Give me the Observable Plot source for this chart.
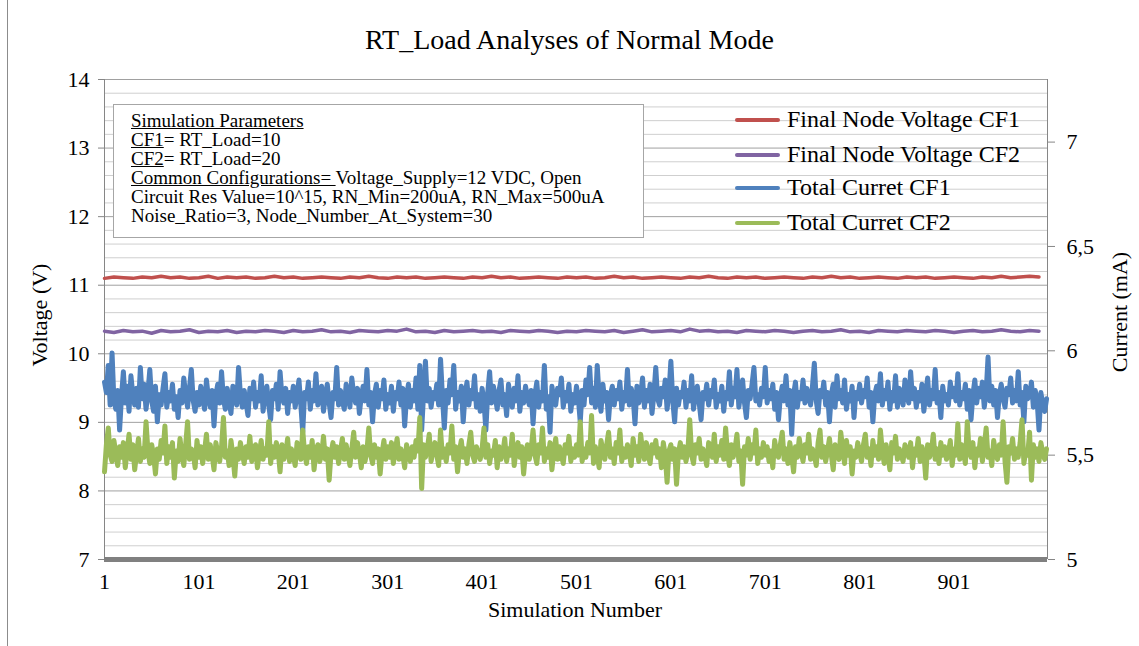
<!DOCTYPE html>
<html><head><meta charset="utf-8">
<script src="https://cdn.jsdelivr.net/npm/d3@7"></script>
<script src="https://cdn.jsdelivr.net/npm/@observablehq/plot@0.6"></script>
<style>
body{margin:0;background:#fff;font-family:"Liberation Serif","Times New Roman",serif;color:#000;}
#wrap{position:relative;width:1139px;height:646px;overflow:hidden;}
#border{position:absolute;left:7px;top:0;width:1px;height:646px;background:#8c8c8c;}
#title{position:absolute;left:0;top:26px;width:1139px;text-align:center;font-size:28px;line-height:28px;}
#chart{position:absolute;left:0;top:60px;}
.lab{position:absolute;font-size:22px;white-space:nowrap;line-height:24px;}
#params{position:absolute;left:113px;top:104px;width:512px;height:126px;border:1px solid #a6a6a6;background:#fff;padding:6px 0 0 17px;font-size:19px;line-height:19px;}
#params u{text-decoration:underline;}
.leg{position:absolute;left:735px;height:26px;font-size:24px;line-height:26px;white-space:nowrap;}
.leg span.sw{display:inline-block;width:45px;height:4px;vertical-align:middle;margin-right:7px;border-radius:2px;position:relative;top:-1px;}
</style></head>
<body>
<div id="wrap">
<div id="border"></div>
<div id="title">RT_Load Analyses of Normal Mode</div>
<div id="chart"></div>
<div id="params">
<div><u>Simulation Parameters</u></div>
<div><u>CF1</u>= RT_Load=10</div>
<div><u>CF2</u>= RT_Load=20</div>
<div><u>Common Configurations= </u>Voltage_Supply=12 VDC, Open</div>
<div>Circuit Res Value=10^15, RN_Min=200uA, RN_Max=500uA</div>
<div>Noise_Ratio=3, Node_Number_At_System=30</div>
</div>
<div id="legend"></div>
<div class="lab" style="left:575px;top:598px;transform:translateX(-50%);">Simulation Number</div>
<div class="lab" style="left:40px;top:315px;transform:translate(-50%,-50%) rotate(-90deg);">Voltage (V)</div>
<div class="lab" style="left:1120px;top:312px;transform:translate(-50%,-50%) rotate(-90deg);">Current (mA)</div>
</div>
<script>
// ---- data ----
const seriesNames = ["Final Node Voltage CF1","Final Node Voltage CF2","Total Curret CF1","Total Curret CF2"];
const seriesColors = ["#c0504d","#8064a2","#4f81bd","#9bbb59"];
const xTicks = [1,101,201,301,401,501,601,701,801,901];
const voltTicks = [7,8,9,10,11,12,13,14];
const currentTicks = [5,5.5,6,6.5,7];
const voltDomain = [7,14];
const currentDomain = [5,7.3];
const simDomain = [1,1000];
// voltage series (V), one value every 10 simulations
const voltCF1 = [
11.10,11.12,11.11,11.10,11.12,11.11,11.13,11.11,11.12,11.10,
11.11,11.13,11.10,11.12,11.11,11.12,11.10,11.11,11.13,11.11,
11.12,11.10,11.11,11.12,11.11,11.10,11.12,11.11,11.13,11.11,
11.10,11.12,11.11,11.12,11.10,11.11,11.12,11.11,11.10,11.12,
11.11,11.13,11.11,11.12,11.10,11.11,11.12,11.11,11.10,11.12,
11.11,11.12,11.10,11.11,11.13,11.11,11.12,11.10,11.11,11.12,
11.11,11.10,11.12,11.11,11.13,11.11,11.10,11.12,11.11,11.12,
11.10,11.11,11.12,11.11,11.10,11.12,11.11,11.13,11.11,11.12,
11.10,11.11,11.12,11.11,11.10,11.12,11.11,11.12,11.10,11.11,
11.12,11.11,11.10,11.12,11.11,11.13,11.11,11.12,11.13,11.12];
const voltCF2 = [
10.33,10.31,10.34,10.32,10.33,10.30,10.34,10.32,10.33,10.35,
10.31,10.33,10.32,10.34,10.31,10.33,10.32,10.34,10.33,10.31,
10.34,10.32,10.33,10.35,10.32,10.33,10.31,10.34,10.33,10.32,
10.34,10.33,10.36,10.32,10.33,10.31,10.34,10.32,10.33,10.34,
10.32,10.33,10.31,10.34,10.33,10.32,10.34,10.33,10.31,10.33,
10.32,10.34,10.33,10.32,10.34,10.31,10.33,10.35,10.32,10.33,
10.34,10.32,10.36,10.33,10.34,10.32,10.33,10.31,10.34,10.33,
10.32,10.34,10.33,10.31,10.33,10.34,10.32,10.33,10.35,10.32,
10.33,10.31,10.34,10.33,10.32,10.34,10.33,10.32,10.34,10.33,
10.31,10.33,10.34,10.32,10.33,10.35,10.33,10.32,10.34,10.33];
// current series (mA), one value every 2 simulations
const currCF1 = [
5.85,5.80,5.93,5.74,5.99,5.76,5.72,5.81,5.62,5.78,5.90,5.75,5.83,5.71,5.88,5.79,5.74,5.82,5.73,5.92,5.77,5.84,5.72,5.80,5.91,
5.76,5.71,5.83,5.66,5.79,5.74,5.82,5.89,5.73,5.80,5.76,5.84,5.72,5.78,5.68,5.81,5.75,5.87,5.79,5.73,5.82,5.91,5.76,5.71,5.80,
5.74,5.83,5.77,5.72,5.86,5.78,5.73,5.81,5.64,5.79,5.84,5.75,5.90,5.77,5.72,5.82,5.76,5.70,5.83,5.78,5.74,5.92,5.79,5.73,5.81,
5.75,5.69,5.82,5.77,5.85,5.73,5.80,5.76,5.88,5.71,5.79,5.83,5.74,5.67,5.81,5.77,5.84,5.72,5.90,5.78,5.75,5.82,5.70,5.80,5.76,
5.83,5.73,5.79,5.86,5.74,5.61,5.80,5.77,5.85,5.72,5.81,5.76,5.89,5.74,5.79,5.83,5.71,5.78,5.84,5.75,5.68,5.80,5.77,5.92,5.74,
5.81,5.76,5.72,5.84,5.78,5.73,5.87,5.79,5.75,5.82,5.70,5.78,5.83,5.76,5.91,5.74,5.80,5.66,5.79,5.84,5.73,5.81,5.77,5.86,5.72,
5.79,5.75,5.83,5.71,5.80,5.77,5.85,5.74,5.82,5.64,5.78,5.84,5.73,5.81,5.76,5.87,5.72,5.93,5.62,5.79,5.95,5.76,5.82,5.73,5.80,
5.77,5.84,5.74,5.96,5.78,5.63,5.81,5.75,5.86,5.79,5.93,5.72,5.80,5.76,5.83,5.66,5.79,5.85,5.74,5.81,5.77,5.88,5.73,5.79,5.71,
5.82,5.76,5.62,5.80,5.90,5.75,5.83,5.78,5.72,5.81,5.86,5.74,5.79,5.69,5.84,5.77,5.73,5.82,5.76,5.88,5.71,5.80,5.75,5.83,5.78,
5.74,5.81,5.65,5.79,5.85,5.73,5.80,5.76,5.93,5.72,5.78,5.61,5.83,5.77,5.74,5.82,5.79,5.87,5.73,5.80,5.76,5.84,5.71,5.79,5.75,
5.83,5.77,5.66,5.81,5.74,5.86,5.79,5.92,5.75,5.82,5.73,5.93,5.78,5.71,5.84,5.76,5.80,5.67,5.79,5.83,5.74,5.81,5.77,5.85,5.72,
5.80,5.76,5.91,5.74,5.82,5.78,5.65,5.83,5.75,5.79,5.87,5.73,5.81,5.76,5.84,5.70,5.79,5.92,5.77,5.74,5.82,5.78,5.86,5.72,5.80,
5.95,5.76,5.66,5.82,5.74,5.80,5.78,5.85,5.73,5.81,5.76,5.88,5.72,5.79,5.83,5.75,5.67,5.80,5.77,5.84,5.74,5.81,5.78,5.86,5.73,
5.79,5.76,5.83,5.71,5.80,5.77,5.90,5.74,5.82,5.78,5.91,5.73,5.80,5.86,5.75,5.68,5.81,5.77,5.84,5.92,5.76,5.79,5.74,5.82,5.78,
5.92,5.75,5.81,5.77,5.84,5.72,5.80,5.67,5.78,5.83,5.76,5.88,5.74,5.81,5.60,5.79,5.85,5.73,5.80,5.77,5.86,5.75,5.82,5.78,5.74,
5.83,5.94,5.76,5.70,5.81,5.78,5.85,5.74,5.80,5.66,5.79,5.84,5.73,5.88,5.77,5.81,5.75,5.86,5.72,5.79,5.76,5.83,5.68,5.80,5.77,
5.84,5.75,5.81,5.78,5.87,5.73,5.80,5.66,5.79,5.83,5.76,5.89,5.74,5.81,5.77,5.85,5.72,5.80,5.76,5.88,5.73,5.82,5.78,5.74,5.86,
5.79,5.75,5.90,5.77,5.82,5.73,5.80,5.76,5.84,5.71,5.79,5.87,5.74,5.81,5.77,5.91,5.75,5.80,5.68,5.83,5.76,5.79,5.74,5.85,5.78,
5.82,5.76,5.89,5.74,5.80,5.77,5.84,5.72,5.81,5.67,5.79,5.86,5.75,5.82,5.78,5.85,5.73,5.80,5.97,5.76,5.83,5.74,5.81,5.68,5.79,
5.84,5.77,5.73,5.82,5.79,5.87,5.75,5.81,5.76,5.90,5.74,5.80,5.66,5.83,5.77,5.79,5.85,5.73,5.81,5.76,5.62,5.80,5.74,5.71,5.77];
const currCF2 = [
5.42,5.55,5.63,5.50,5.47,5.57,5.51,5.45,5.54,5.49,5.56,5.44,5.52,5.60,5.48,5.55,5.43,5.51,5.58,5.47,5.53,5.49,5.66,5.52,5.46,
5.55,5.50,5.41,5.53,5.48,5.57,5.51,5.64,5.46,5.54,5.49,5.56,5.39,5.52,5.47,5.58,5.50,5.45,5.55,5.66,5.48,5.53,5.51,5.44,5.57,
5.49,5.54,5.46,5.52,5.60,5.48,5.55,5.50,5.43,5.56,5.51,5.47,5.54,5.68,5.49,5.52,5.45,5.57,5.50,5.40,5.53,5.48,5.56,5.51,5.46,
5.54,5.49,5.59,5.47,5.52,5.55,5.44,5.51,5.57,5.48,5.53,5.50,5.66,5.46,5.54,5.49,5.56,5.52,5.42,5.55,5.48,5.51,5.58,5.47,5.53,
5.50,5.45,5.56,5.52,5.48,5.62,5.51,5.46,5.54,5.49,5.57,5.43,5.52,5.55,5.47,5.50,5.59,5.48,5.53,5.38,5.51,5.56,5.49,5.54,5.46,
5.52,5.58,5.48,5.55,5.50,5.45,5.53,5.61,5.49,5.56,5.51,5.44,5.54,5.47,5.52,5.63,5.50,5.46,5.55,5.49,5.53,5.41,5.51,5.57,5.48,
5.54,5.49,5.56,5.46,5.52,5.58,5.48,5.53,5.50,5.44,5.55,5.51,5.47,5.54,5.49,5.57,5.52,5.68,5.34,5.55,5.49,5.53,5.60,5.47,5.52,
5.56,5.50,5.45,5.62,5.49,5.53,5.47,5.55,5.51,5.64,5.48,5.54,5.42,5.52,5.57,5.49,5.53,5.46,5.55,5.61,5.50,5.47,5.54,5.51,5.48,
5.53,5.63,5.49,5.55,5.46,5.52,5.50,5.57,5.44,5.54,5.48,5.51,5.58,5.47,5.53,5.50,5.60,5.45,5.52,5.56,5.49,5.54,5.41,5.51,5.55,
5.48,5.53,5.62,5.50,5.46,5.55,5.51,5.63,5.47,5.53,5.49,5.56,5.43,5.52,5.58,5.48,5.54,5.50,5.46,5.55,5.51,5.59,5.47,5.53,5.49,
5.55,5.50,5.66,5.47,5.53,5.49,5.56,5.51,5.69,5.46,5.54,5.50,5.44,5.57,5.52,5.48,5.55,5.61,5.49,5.53,5.46,5.56,5.51,5.62,5.47,
5.53,5.49,5.55,5.51,5.45,5.58,5.50,5.54,5.47,5.60,5.52,5.48,5.56,5.50,5.46,5.55,5.51,5.57,5.49,5.53,5.44,5.56,5.50,5.37,5.52,
5.55,5.48,5.53,5.36,5.51,5.56,5.49,5.54,5.47,5.52,5.67,5.50,5.46,5.55,5.51,5.58,5.48,5.53,5.50,5.45,5.56,5.52,5.49,5.60,5.47,
5.54,5.50,5.57,5.48,5.63,5.51,5.45,5.55,5.49,5.53,5.60,5.47,5.52,5.36,5.54,5.50,5.58,5.48,5.55,5.51,5.62,5.46,5.53,5.49,5.56,
5.50,5.54,5.47,5.52,5.44,5.57,5.51,5.49,5.55,5.61,5.48,5.53,5.46,5.56,5.50,5.42,5.54,5.49,5.58,5.52,5.47,5.55,5.51,5.60,5.48,
5.53,5.50,5.45,5.56,5.62,5.49,5.54,5.47,5.52,5.58,5.50,5.43,5.55,5.51,5.48,5.61,5.53,5.46,5.57,5.50,5.54,5.41,5.52,5.49,5.56,
5.51,5.47,5.55,5.60,5.49,5.53,5.45,5.57,5.50,5.54,5.48,5.62,5.52,5.46,5.55,5.50,5.43,5.56,5.51,5.59,5.48,5.53,5.50,5.47,5.55,
5.52,5.49,5.56,5.44,5.53,5.50,5.58,5.47,5.54,5.51,5.39,5.55,5.49,5.52,5.60,5.48,5.53,5.46,5.56,5.50,5.54,5.48,5.51,5.57,5.45,
5.53,5.50,5.65,5.48,5.55,5.51,5.46,5.66,5.52,5.49,5.56,5.44,5.53,5.50,5.58,5.47,5.54,5.63,5.49,5.52,5.45,5.57,5.51,5.48,5.55,
5.50,5.66,5.47,5.37,5.54,5.51,5.58,5.48,5.53,5.49,5.56,5.67,5.46,5.52,5.50,5.61,5.38,5.55,5.49,5.53,5.47,5.56,5.51,5.48,5.53];

// ---- helpers ----
const toV = i => voltDomain[0] + (i - currentDomain[0]) * (voltDomain[1]-voltDomain[0]) / (currentDomain[1]-currentDomain[0]);
const toI = v => currentDomain[0] + (v - voltDomain[0]) * (currentDomain[1]-currentDomain[0]) / (voltDomain[1]-voltDomain[0]);
const voltRows = (arr) => arr.map((v,k) => ({sim: 1 + k*10, v}));
const currRows = (arr) => arr.map((c,k) => ({sim: 1 + k*2, v: toV(c)}));
const minorGrid = d3.range(voltDomain[0]*5, voltDomain[1]*5 + 1).map(k => k/5).filter(v => Math.abs(v - Math.round(v)) > 1e-6);
const fmtComma = v => String(Math.round(v*10)/10).replace(".", ",");

const chart = Plot.plot({
  width: 1139, height: 586,
  marginLeft: 104, marginRight: 92, marginTop: 19, marginBottom: 87,
  style: {fontFamily: '"Liberation Serif","Times New Roman",serif', fontSize: "22px", color: "#000", background: "transparent"},
  x: {domain: simDomain},
  y: {domain: voltDomain},
  marks: [
    Plot.ruleY(minorGrid, {stroke: "#cfcfcf", strokeWidth: 1}),
    Plot.ruleY(voltTicks, {stroke: "#a0a0a0", strokeWidth: 1}),
    Plot.ruleX([simDomain[0], simDomain[1]], {stroke: "#868686", strokeWidth: 1}),
    Plot.axisY(voltTicks, {anchor: "left", tickSize: 6, tickPadding: 9, stroke: "#868686", label: null, fontSize: 22, tickFormat: d => String(d)}),
    Plot.axisY(currentTicks.map(toV), {anchor: "right", tickSize: 7, tickPadding: 12, stroke: "#868686", label: null, fontSize: 22, tickFormat: v => fmtComma(toI(v))}),
    Plot.axisX(xTicks, {anchor: "bottom", tickSize: 0, tickPadding: 14, label: null, fontSize: 22, tickFormat: d => String(d)}),
    Plot.ruleY([voltDomain[0]], {stroke: "#808080", strokeWidth: 5}),
    Plot.line(voltRows(voltCF1), {x: "sim", y: "v", stroke: seriesColors[0], strokeWidth: 3.5}),
    Plot.line(voltRows(voltCF2), {x: "sim", y: "v", stroke: seriesColors[1], strokeWidth: 3.5}),
    Plot.line(currRows(currCF1), {x: "sim", y: "v", stroke: seriesColors[2], strokeWidth: 5, strokeLinejoin: "round"}),
    Plot.line(currRows(currCF2), {x: "sim", y: "v", stroke: seriesColors[3], strokeWidth: 5, strokeLinejoin: "round"})
  ]
});
document.getElementById("chart").appendChild(chart);

const legendTops = [106, 141, 174, 209];
const lg = document.getElementById("legend");
seriesNames.forEach((n, i) => {
  const d = document.createElement("div");
  d.className = "leg";
  d.style.top = legendTops[i] + "px";
  d.innerHTML = `<span class="sw" style="background:${seriesColors[i]}"></span>${n}`;
  lg.appendChild(d);
});
</script>
</body></html>
